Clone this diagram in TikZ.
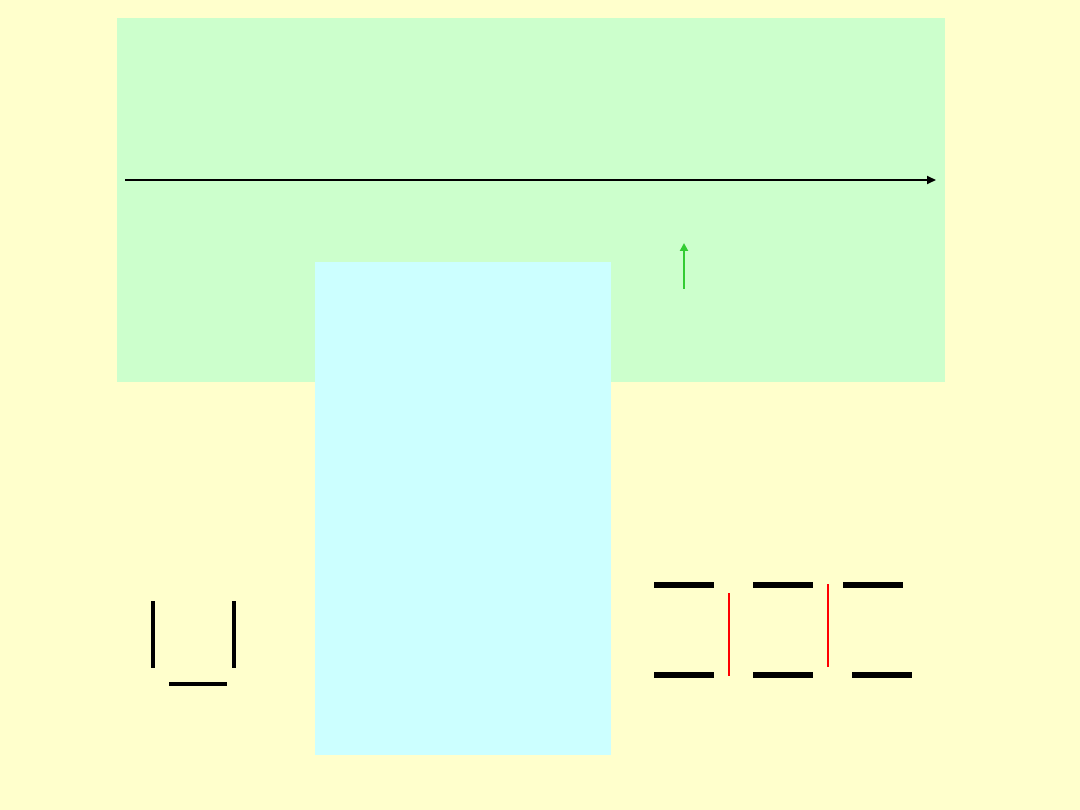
\documentclass[tikz,border=0pt]{standalone}
\usepackage{tikz}
\usetikzlibrary{arrows.meta}
\definecolor{bgyellow}{HTML}{FFFFCC}
\definecolor{boxgreen}{HTML}{CCFFCC}
\definecolor{boxblue}{HTML}{CCFFFF}
\definecolor{arrgreen}{HTML}{33CC33}
\tikzset{
  thickbar/.style={line width=6pt, black},
  midbar/.style={line width=4pt, black},
  redline/.style={line width=1.8pt, red},
  mainarrow/.style={line width=2pt, black, -{Triangle[length=9pt,width=8pt]}},
  greenarrow/.style={line width=2pt, arrgreen, -{Triangle[length=8pt,width=8pt]}}
}
\begin{document}
\begin{tikzpicture}[x=1pt,y=-1pt]
\fill[bgyellow] (0,0) rectangle (1080,810);
\useasboundingbox (0,0) rectangle (1080,810);
\fill[boxgreen] (117,18) rectangle (945,382);
\fill[boxblue] (315,262) rectangle (611,755);
% main horizontal arrow
\coordinate (hs) at (125,180);
\coordinate (he) at (936,180);
\draw[mainarrow] (hs) -- (he);
% green arrow
\coordinate (gs) at (684,289);
\coordinate (ge) at (684,243);
\draw[greenarrow] (gs) -- (ge);
% left U shape
\draw[midbar] (153,601) -- (153,668);
\draw[midbar] (234,601) -- (234,668);
\draw[midbar] (169,684) -- (227,684);
% right bars
\draw[thickbar] (654,585) -- (714,585);
\draw[thickbar] (654,675) -- (714,675);
\draw[thickbar] (753,585) -- (813,585);
\draw[thickbar] (753,675) -- (813,675);
\draw[thickbar] (843,585) -- (903,585);
\draw[thickbar] (852,675) -- (912,675);
\draw[redline] (729,593) -- (729,676);
\draw[redline] (828,584) -- (828,667);
\end{tikzpicture}
\end{document}
